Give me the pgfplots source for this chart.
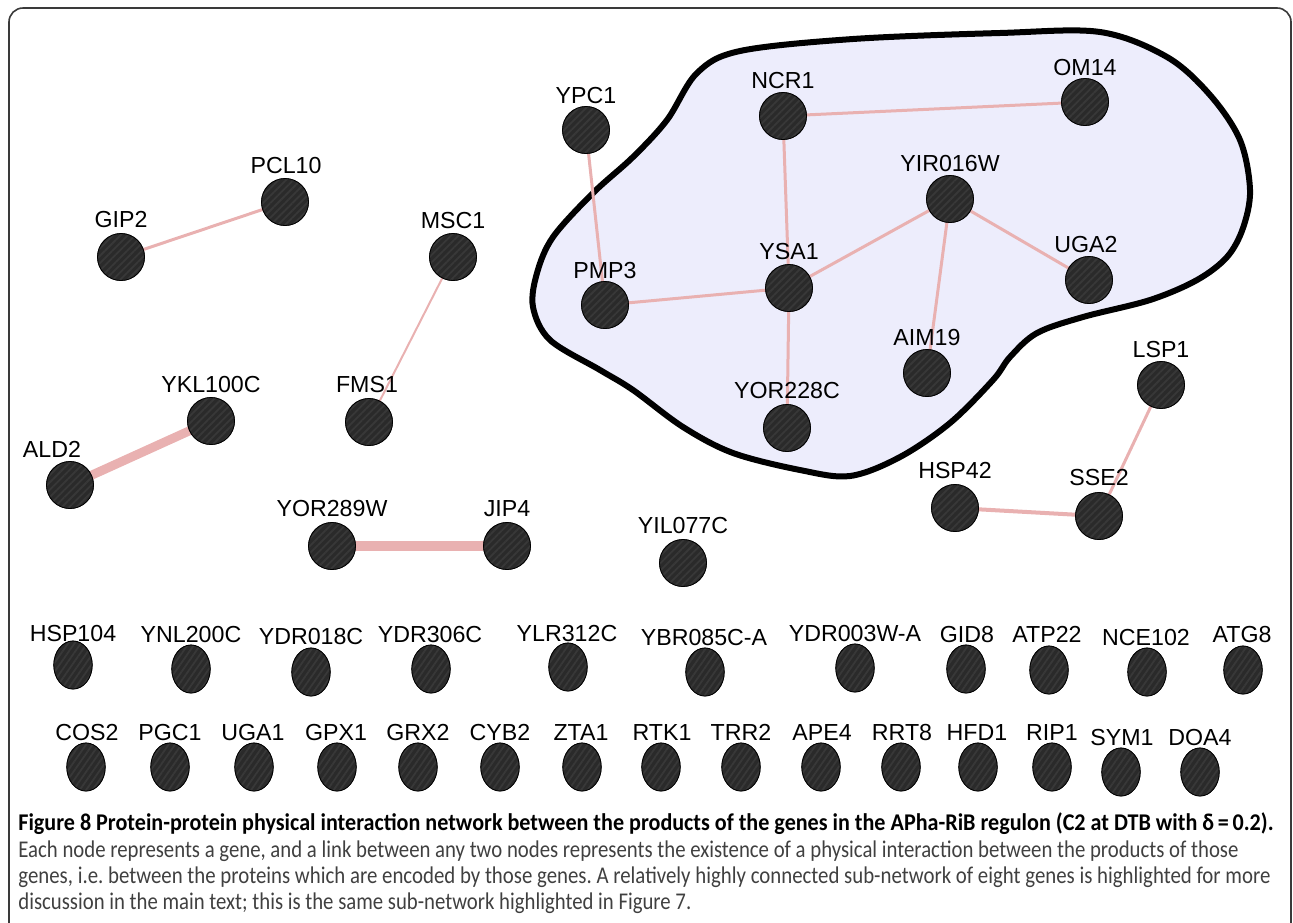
\documentclass[border=0pt]{standalone}
\usepackage{pgfplots}
\pgfplotsset{compat=1.18}
\usepackage{pgfplotstable}
\usetikzlibrary{patterns.meta}
\usepackage{fontspec}
\setmainfont{Liberation Sans}
\newfontfamily\capfont{Carlito}

\definecolor{nodefill}{HTML}{2A2A2A}
\definecolor{nodestripe}{HTML}{383838}
\definecolor{edgecol}{HTML}{E9B1B1}
\definecolor{blobfill}{HTML}{EDEDFC}
\definecolor{framecol}{HTML}{3A3A3A}
\definecolor{captxt}{HTML}{404040}

% node centres in pixel units (y grows downwards)
\pgfplotstableread{
x y
121 257
285 202
453 257
369 422
211 421
70 485
586 130
783 116
1085 102
950 199
789 288
605 305
1089 280
927 373
787 428
1161 385
955 508
1099 516
332 546
507 546
683 563
}\netnodes

% genes with no interaction, two rows
\pgfplotstableread{
x y
73 665
191 669
311 672
431 669
568 667
705 672
855 668
966 669
1049 670
1147 672
1243 670
86 767
170 767
254 767
337 767
418 767
500 767
582 767
661 767
741 767
821 767
901 767
978 767
1052 767
1121 772
1200 772
}\lonenodes

% label baselines
\pgfplotstableread{
x y label
121 227 GIP2
286 173 PCL10
453 228 MSC1
367 392 FMS1
211 392 YKL100C
52 457 ALD2
586 103 YPC1
783 88 NCR1
1085 75 OM14
950 171 YIR016W
789 259 YSA1
605 278 PMP3
1086 252 UGA2
927 345 AIM19
787 398 YOR228C
1161 357 LSP1
955 478 HSP42
1099 485 SSE2
332 516 YOR289W
507 516 JIP4
683 533 YIL077C
73 641 HSP104
191 642 YNL200C
311 644 YDR018C
430 642 YDR306C
567 641 YLR312C
704 645 YBR085C-A
855 641 YDR003W-A
967 642 GID8
1047 642 ATP22
1146 645 NCE102
1242 642 ATG8
87 740 COS2
170 740 PGC1
253 740 UGA1
336 740 GPX1
418 740 GRX2
500 740 CYB2
581 740 ZTA1
662 740 RTK1
741 740 TRR2
822 740 APE4
902 740 RRT8
977 740 HFD1
1052 740 RIP1
1122 745 SYM1
1200 745 DOA4
}\netlabels

\newcommand\capline[3]{% y, width, text
  \node[anchor=base west, inner sep=0pt] at (axis cs:18,#1)
    {\resizebox{#2}{\height}{#3}};}

\begin{document}
\begin{tikzpicture}
\begin{axis}[
    scale only axis,
    width=646.5pt, height=461pt,
    xmin=0, xmax=1293, ymin=0, ymax=922,
    y dir=reverse,
    hide axis,
    edge/.style={no markers, color=edgecol, line width=1.5pt},
]
% outer frame
\draw[framecol, line width=0.8pt, rounded corners=7pt] (axis cs:9,8) rectangle (axis cs:1291,960);

% highlighted sub-network
\addplot[draw=black, line width=3pt, fill=blobfill, smooth cycle, tension=0.55] coordinates {
    (697,73) (740,51) (853,39) (1000,33) (1100,32) (1167,57) (1210,95)
    (1240,140) (1250,190) (1243,228) (1227,257) (1197,280) (1150,300)
    (1083,317) (1037,333) (1010,357) (993,380) (950,423) (900,457)
    (850,476) (800,470) (733,453) (683,427) (633,390) (600,370)
    (550,340) (533,307) (537,273) (553,237) (593,193) (633,157) (667,120)
};

% links
\addplot[edge] coordinates {(121,257) (285,202)};
\addplot[edge, line width=1pt] coordinates {(453,257) (369,422)};
\addplot[edge, line width=4.5pt] coordinates {(211,421) (70,485)};
\addplot[edge, line width=5pt] coordinates {(332,546) (507,546)};
\addplot[edge] coordinates {(586,130) (605,305)};
\addplot[edge] coordinates {(783,116) (1085,102)};
\addplot[edge] coordinates {(783,116) (789,288)};
\addplot[edge] coordinates {(789,288) (605,305)};
\addplot[edge] coordinates {(789,288) (950,199)};
\addplot[edge] coordinates {(789,288) (787,428)};
\addplot[edge] coordinates {(950,199) (1089,280)};
\addplot[edge] coordinates {(950,199) (927,373)};
\addplot[edge] coordinates {(1161,385) (1099,516)};
\addplot[edge, line width=2pt] coordinates {(955,508) (1099,516)};

% genes
\addplot[only marks, mark=*, mark size=11.75pt,
    mark options={fill=nodefill, draw=nodefill}] table[x=x, y=y] \netnodes;
\addplot[only marks, mark=*, mark size=11.75pt,
    mark options={draw=none, pattern={Lines[angle=45, distance=2.6pt, line width=0.9pt]},
        pattern color=nodestripe}] table[x=x, y=y] \netnodes;
\addplot[only marks, mark=*, mark size=12pt,
    mark options={fill=nodefill, draw=nodefill, xscale=0.8}] table[x=x, y=y] \lonenodes;
\addplot[only marks, mark=*, mark size=12pt,
    mark options={draw=none, xscale=0.8, pattern={Lines[angle=55, distance=2.6pt, line width=0.9pt]},
        pattern color=nodestripe}] table[x=x, y=y] \lonenodes;

% gene names
\addplot[only marks, mark=none, nodes near coords, point meta=explicit symbolic,
    every node near coord/.append style={font=\fontsize{11.6}{13}\selectfont,
        inner sep=0pt, anchor=base, text=black}]
    table[x=x, y=y, meta=label] \netlabels;

% caption
\capline{830}{627.5pt}{\capfont\bfseries\fontsize{12}{13}\selectfont\color{black}%
    Figure 8 Protein-protein physical interaction network between the products of the genes in the APha-RiB regulon (C2 at DTB with δ\,=\,0.2).}
\capline{857}{610pt}{\capfont\fontsize{12}{13}\selectfont\frenchspacing\color{captxt}%
    Each node represents a gene, and a link between any two nodes represents the existence of a physical interaction between the products of those}
\capline{883}{626pt}{\capfont\fontsize{12}{13}\selectfont\frenchspacing\color{captxt}%
    genes, i.e. between the proteins which are encoded by those genes. A relatively highly connected sub-network of eight genes is highlighted for more}
\capline{909}{336.5pt}{\capfont\fontsize{12}{13}\selectfont\frenchspacing\color{captxt}%
    discussion in the main text; this is the same sub-network highlighted in Figure 7.}

\coordinate (bbsw) at (axis cs:0,922);
\coordinate (bbne) at (axis cs:1293,0);
\end{axis}
\pgfresetboundingbox
\useasboundingbox (bbsw) rectangle (bbne);
\end{tikzpicture}
\end{document}
